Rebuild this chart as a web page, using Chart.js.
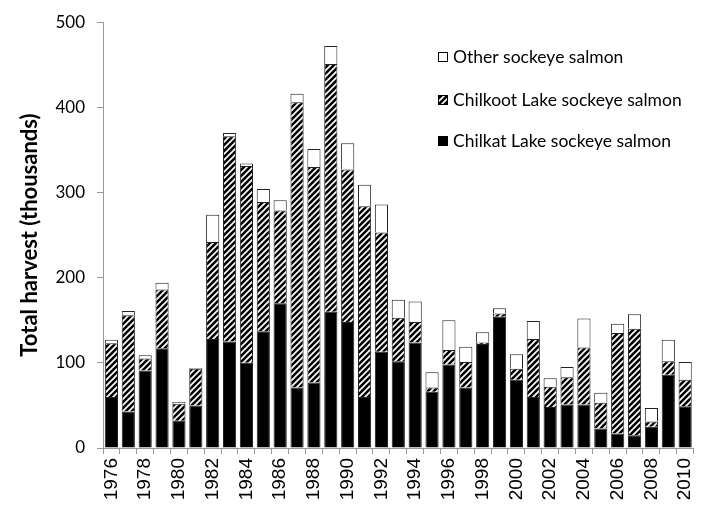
<!DOCTYPE html>
<html>
<head>
<meta charset="utf-8">
<script src="https://cdn.jsdelivr.net/npm/chart.js@4"></script>
<style>
  html, body { margin: 0; padding: 0; background: #fff; overflow: hidden; }
  #wrap { width: 712px; height: 508px; }
</style>
</head>
<body>
<div id="wrap"><canvas id="harvestChart" width="712" height="508"></canvas></div>
<script>
// 年 (x軸)
const years = [
  '1976','1977','1978','1979','1980','1981','1982','1983','1984','1985',
  '1986','1987','1988','1989','1990','1991','1992','1993','1994','1995',
  '1996','1997','1998','1999','2000','2001','2002','2003','2004','2005',
  '2006','2007','2008','2009','2010'
];
// 漁獲量 (千尾)
const chilkat = [60, 43, 91, 117, 32, 50, 128, 125, 100, 137,
                 170, 71, 77, 160, 148, 60, 113, 102, 124, 66,
                 98, 71, 122, 154, 80, 60, 48, 51, 51, 23,
                 17, 15, 25, 86, 49];
const chilkoot = [63, 113, 14, 69, 20, 43, 114, 241, 231, 152,
                  109, 335, 253, 291, 179, 224, 140, 51, 24, 5,
                  17, 30, 2, 4, 13, 68, 24, 32, 67, 30,
                  118, 125, 6, 16, 31];
const other = [4, 5, 4, 8, 2, 1, 32, 4, 3, 15,
               12, 10, 21, 21, 31, 25, 33, 21, 24, 18,
               35, 18, 12, 6, 17, 21, 10, 12, 34, 12,
               11, 17, 16, 25, 21];
const yTicks = [0, 100, 200, 300, 400, 500];

const seriesNames = ['Chilkat Lake sockeye salmon', 'Chilkoot Lake sockeye salmon', 'Other sockeye salmon'];

const ctx = document.getElementById('harvestChart').getContext('2d');

// 斜線パターン
function makeHatch() {
    const c = document.createElement('canvas');
    c.width = 6; c.height = 6;
    const g = c.getContext('2d');
    g.fillStyle = '#000';
    g.fillRect(0, 0, 6, 6);
    g.strokeStyle = '#fff';
    g.lineWidth = 1.7;
    g.beginPath();
    g.moveTo(0, 6); g.lineTo(6, 0);
    g.moveTo(-3, 3); g.lineTo(3, -3);
    g.moveTo(3, 9); g.lineTo(9, 3);
    g.stroke();
    return ctx.createPattern(c, 'repeat');
}
const hatch = makeHatch();
const fills = ['#000', hatch, '#fff'];

// 凡例をグラフ内に描く
const insideLegend = {
    id: 'insideLegend',
    afterDraw(chart) {
        const c = chart.ctx;
        const items = [
            { text: seriesNames[2], fill: fills[2], y: 57 },
            { text: seriesNames[1], fill: fills[1], y: 100 },
            { text: seriesNames[0], fill: fills[0], y: 141 }
        ];
        c.save();
        c.font = '17.5px Lato';
        c.textBaseline = 'middle';
        items.forEach(it => {
            c.fillStyle = it.fill;
            c.fillRect(438, it.y - 5, 10, 10);
            c.strokeStyle = '#000';
            c.lineWidth = 1;
            c.strokeRect(438.5, it.y - 4.5, 9, 9);
            c.fillStyle = '#000';
            c.fillText(it.text, 453, it.y);
        });
        c.restore();
    }
};

new Chart(ctx, {
    type: 'bar',
    data: {
        labels: years,
        datasets: [
            { label: seriesNames[0], data: chilkat, backgroundColor: fills[0], borderColor: '#222', borderWidth: 1 },
            { label: seriesNames[1], data: chilkoot, backgroundColor: fills[1], borderColor: '#222', borderWidth: 1 },
            { label: seriesNames[2], data: other, backgroundColor: fills[2], borderColor: '#222', borderWidth: 1 }
        ]
    },
    options: {
        responsive: false,
        animation: false,
        layout: { padding: { top: 15, right: 2, left: 0, bottom: 0 } },
        datasets: { bar: { barPercentage: 0.78, categoryPercentage: 1.0 } },
        plugins: {
            legend: { display: false },
            tooltip: { enabled: false }
        },
        scales: {
            x: {
                stacked: true,
                grid: { display: true, drawOnChartArea: false, drawTicks: true, tickLength: 6, color: '#999', offset: true },
                border: { display: true, color: '#999' },
                ticks: {
                    autoSkip: false,
                    minRotation: 90,
                    maxRotation: 90,
                    padding: 4,
                    color: '#000',
                    font: { family: 'Liberation Sans', size: 19 },
                    callback: function(val, i) { return i % 2 === 0 ? years[i] : ''; }
                },
                afterFit: function(scale) { scale.height = 60; }
            },
            y: {
                stacked: true,
                min: 0,
                max: 500,
                afterBuildTicks: function(scale) { scale.ticks = yTicks.map(v => ({ value: v })); },
                grid: { display: true, drawOnChartArea: false, drawTicks: true, tickLength: 6, color: '#999' },
                border: { display: true, color: '#999' },
                ticks: {
                    color: '#000',
                    padding: 12,
                    font: { family: 'Lato', size: 17 }
                },
                title: {
                    display: true,
                    text: 'Total harvest (thousands)',
                    color: '#000',
                    font: { family: 'Lato', size: 22, weight: 'bold' },
                    padding: { top: 17, bottom: 0 }
                },
                afterFit: function(scale) { scale.width = 103; }
            }
        }
    },
    plugins: [insideLegend]
});
</script>
</body>
</html>
